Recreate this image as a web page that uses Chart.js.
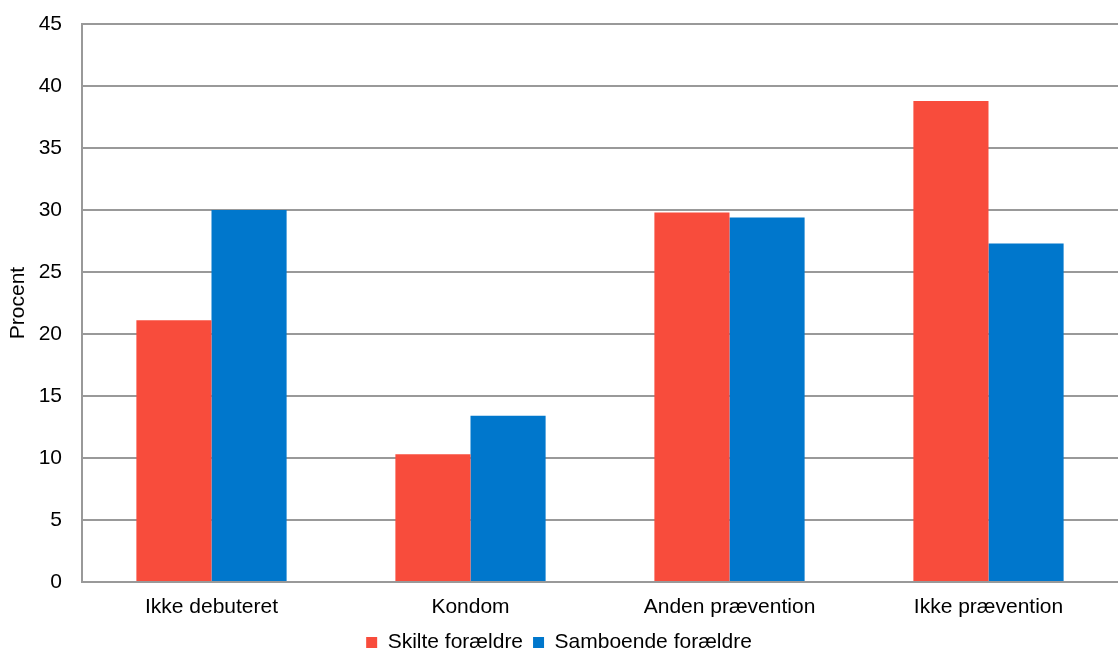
<!DOCTYPE html>
<html>
  <head>
    <title>Prævention</title>
    <script src="https://cdn.jsdelivr.net/npm/chart.js@4/dist/chart.umd.min.js"></script>
    <style>
      body { margin: 0; background: #fff; }
      #container { width: 1118px; height: 653px; }
    </style>
  </head>
  <body>
    <div id="container">
      <canvas id="canvas"></canvas>
    </div>
    <script>
      const categories = ['Ikke debuteret', 'Kondom', 'Anden prævention', 'Ikke prævention'];
      const skilte = [21.1, 10.3, 29.8, 38.8];
      const samboende = [30.0, 13.4, 29.4, 27.3];
      const yTicks = [0, 5, 10, 15, 20, 25, 30, 35, 40, 45];

      const font = { family: 'Liberation Sans, Arial, sans-serif', size: 21 };
      Chart.defaults.font = font;
      Chart.defaults.color = '#000';

      window.onload = () => {
        const ctx = document.getElementById('canvas').getContext('2d');
        new Chart(ctx, {
          type: 'bar',
          data: {
            labels: categories,
            datasets: [
              {
                label: 'Skilte forældre',
                backgroundColor: '#F84C3C',
                data: skilte,
                categoryPercentage: 0.58,
                barPercentage: 1,
              },
              {
                label: 'Samboende forældre',
                backgroundColor: '#0077CC',
                data: samboende,
                categoryPercentage: 0.58,
                barPercentage: 1,
              },
            ],
          },
          options: {
            responsive: true,
            maintainAspectRatio: false,
            animation: false,
            layout: { padding: { left: 0, right: 0, top: 24, bottom: -10 } },
            plugins: {
              legend: {
                position: 'bottom',
                labels: { boxWidth: 11, boxHeight: 11, padding: 10, font: font },
              },
              tooltip: { enabled: false },
            },
            scales: {
              x: {
                grid: { display: false },
                border: { display: true, color: '#999', width: 2 },
                ticks: { padding: 5, font: font },
                afterFit: (axis) => { axis.height = 40; },
              },
              y: {
                min: 0,
                max: 45,
                afterBuildTicks: (axis) => { axis.ticks = yTicks.map((v) => ({ value: v })); },
                grid: { color: '#999', lineWidth: 2, drawTicks: false },
                border: { display: true, color: '#999', width: 2 },
                ticks: { padding: 20, font: font },
                title: { display: true, text: 'Procent', font: font, padding: 6 },
                afterFit: (axis) => {
                  axis.width = 82;
                  axis.paddingTop = 0;
                  axis.paddingBottom = 0;
                },
              },
            },
          },
        });
      };
    </script>
  </body>
</html>
